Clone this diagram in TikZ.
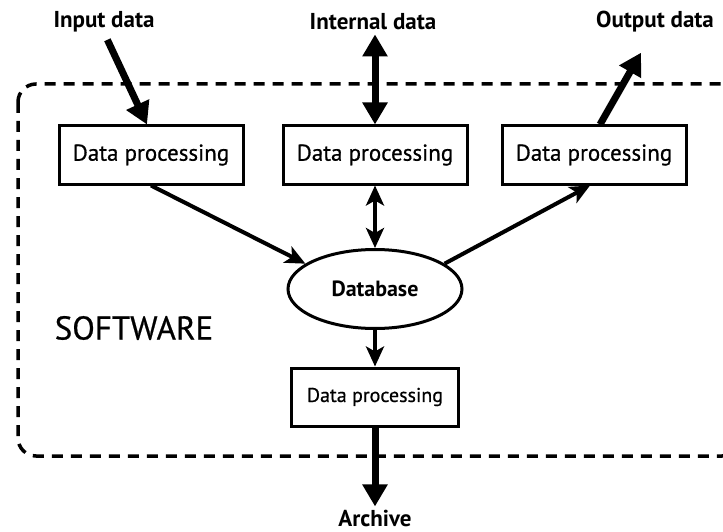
\documentclass[tikz,border=0pt]{standalone}
\usepackage{fontspec}
\setmainfont{PT Sans}
\newfontfamily\swmedium{PT Sans}[FakeBold=0.6]
\usetikzlibrary{arrows.meta,positioning,shapes.geometric}
\tikzset{
  sw diagram/.style={line join=miter},
  sw box/.style={draw, line width=3pt, fill=white, minimum width=184pt,
    minimum height=58pt, inner sep=0pt, font=\swmedium\fontsize{23}{27}\selectfont},
  sw small box/.style={sw box, minimum width=167pt, font=\swmedium\fontsize{20}{24}\selectfont},
  sw db/.style={ellipse, draw, line width=3pt, fill=white, minimum width=174pt,
    minimum height=79pt, inner sep=0pt, font=\fontsize{22}{26}\selectfont\bfseries},
  sw label/.style={font=\fontsize{23}{27}\selectfont\bfseries, inner sep=0pt},
  sw thin/.style={-{Stealth[length=20pt,width=18pt,inset=5pt]}, line width=4pt},
  sw both/.style={sw thin, {Stealth[length=20pt,width=18pt,inset=5pt]}-{Stealth[length=20pt,width=18pt,inset=5pt]}},
  sw thick/.style={-{Triangle[length=22pt,width=24pt]}, line width=7pt},
  sw thick both/.style={sw thick, {Triangle[length=22pt,width=24pt]}-{Triangle[length=22pt,width=24pt]}},
  sw frame/.style={line width=3.5pt, dash pattern=on 11pt off 8pt, rounded corners=18pt}
}
\begin{document}
\begin{tikzpicture}[sw diagram,x=1pt,y=-1pt]
\useasboundingbox (0,0) rectangle (723,532);
% software boundary
\draw[sw frame] (18,84) rectangle (740,456);
\node[font=\swmedium\fontsize{33}{37}\selectfont] (sw) at (134,328) {SOFTWARE};

% processing steps
\node[sw box] (inProc) at (151,155) {Data processing};
\node[sw box] (intProc) at (375,155) {Data processing};
\node[sw box] (outProc) at (594,155) {Data processing};
\node[sw db] (db) at (375,289) {Database};
\node[sw small box] (arcProc) at (375,397) {Data processing};

% external data
\node[sw label] (inData) at (104,22) {Input data};
\node[sw label] (intData) at (373,22) {Internal data};
\node[sw label] (outData) at (655,22) {Output data};
\node[sw label] (arcData) at (375,518) {Archive};

\draw[sw thick, shorten <=8pt] (inData.south) -- ([xshift=-4pt]inProc.north);
\draw[sw thick both, shorten <=4pt] (intData.south -| intProc.north) -- (intProc.north);
\draw[sw thick] ([xshift=6pt]outProc.north) -- ([xshift=-14pt,yshift=-20pt]outData.south);
\draw[sw thick, shorten >=3pt] (arcProc.south) -- (arcData.north);

\draw[sw thin] (inProc.south) -- (db.160);
\draw[sw both] (intProc.south) -- (db.north);
\draw[sw thin] (db.20) -- ([xshift=-4pt]outProc.south);
\draw[sw thin] (db.south) -- (arcProc.north);
\end{tikzpicture}
\end{document}
